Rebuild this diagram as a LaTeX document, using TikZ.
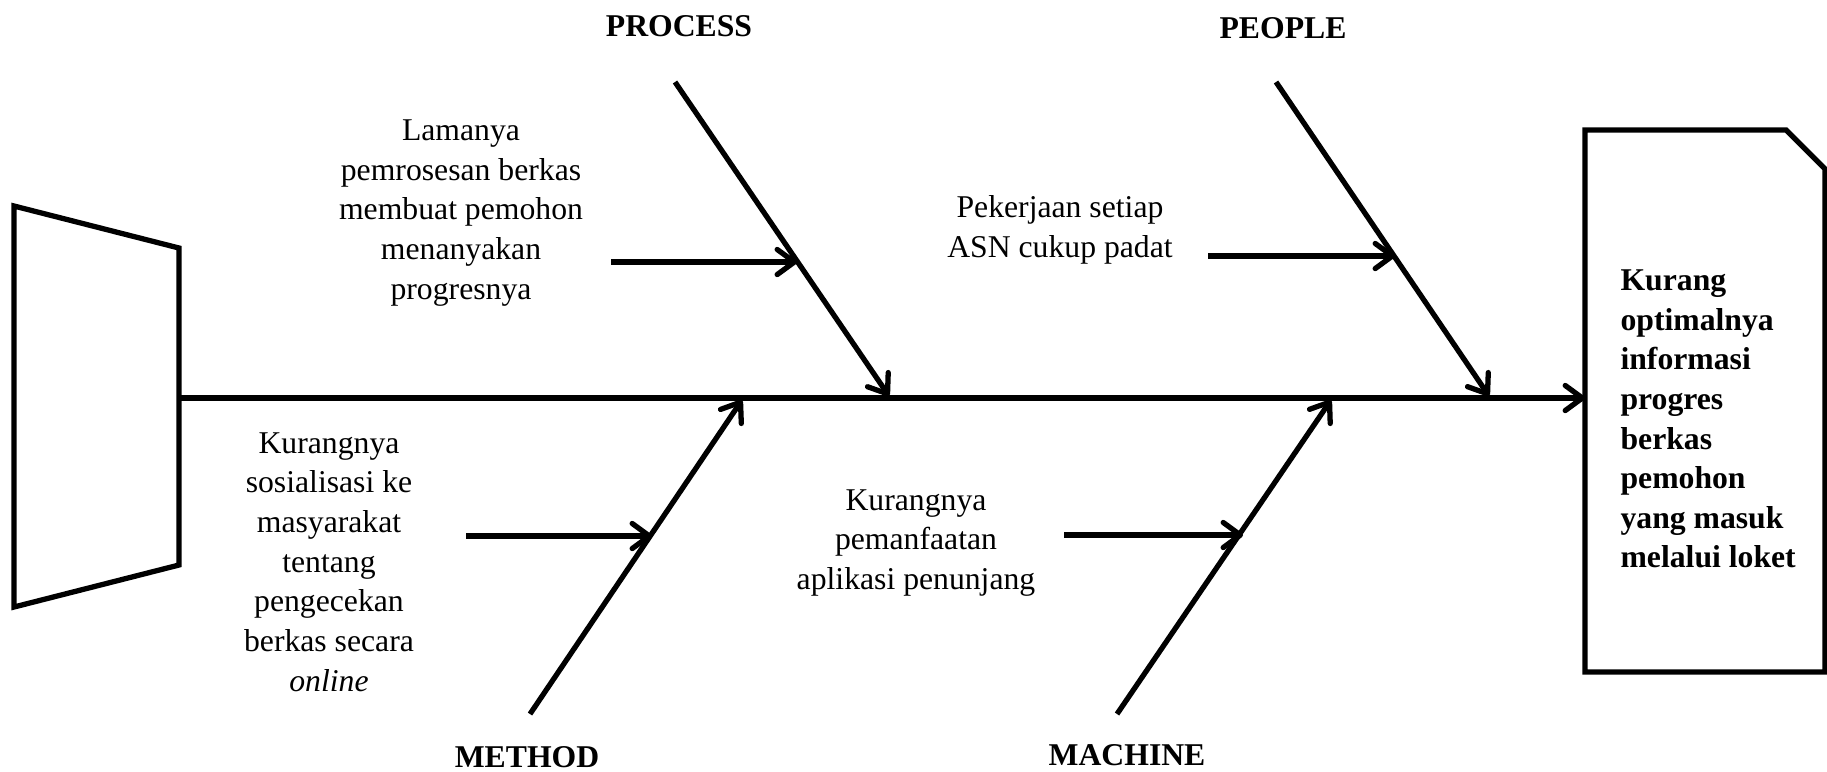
\documentclass[tikz,border=0pt]{standalone}
\usepackage{fontspec}
\setmainfont{Liberation Serif}
\usetikzlibrary{arrows.meta}

\begin{document}
\begin{tikzpicture}[x=0.0133cm,y=-0.0133cm]
\tikzset{bone/.style={line width=2pt,-{Straight Barb[round,length=6.5pt,width=9.5pt]}},
every node/.style={font=\fontsize{12}{15}\selectfont},
cause/.style={align=center},
cat/.style={font=\fontsize{12}{15}\selectfont\bfseries}}
\useasboundingbox (0,0) rectangle (1827,771);

% head and effect box
\draw[line width=2pt] (14,206) -- (179,248) -- (179,565) -- (14,607) -- cycle;
\draw[line width=2pt] (1585,130) -- (1786,130) -- (1825,169) -- (1825,672) -- (1585,672) -- cycle;
\coordinate (tail) at (179,398);
\coordinate (effect) at (1585,398);
\node (res) at (1620,419) [anchor=west,inner sep=0pt,align=left,font=\fontsize{12}{15}\selectfont\bfseries] {Kurang\\optimalnya\\informasi\\progres\\berkas\\pemohon\\yang masuk\\melalui loket};

% bones
\coordinate (p1) at (675,82);
\coordinate (p2) at (889,396);
\coordinate (q1) at (1276,82);
\coordinate (q2) at (1489,396);
\coordinate (m1) at (530,714);
\coordinate (m2) at (742,400);
\coordinate (n1) at (1117,714);
\coordinate (n2) at (1331,400);

% sub causes
\coordinate (ps) at (611,262);
\coordinate (pe) at (797,262);
\coordinate (qs) at (1208,256);
\coordinate (qe) at (1395,256);
\coordinate (ms) at (466,536);
\coordinate (me) at (652,536);
\coordinate (ns) at (1064,535);
\coordinate (ne) at (1243,535);

\node (process) at (679,26) [cat] {PROCESS};
\node (people) at (1283,28) [cat] {PEOPLE};
\node (method) at (527,757) [cat] {METHOD};
\node (machine) at (1127,755) [cat] {MACHINE};

\node (c1) at (461,213) [cause] {Lamanya\\pemrosesan berkas\\membuat pemohon\\menanyakan\\progresnya};
\node (c2) at (1060,230) [cause] {Pekerjaan setiap\\ASN cukup padat};
\node (c3) at (329,562) [cause] {Kurangnya\\sosialisasi ke\\masyarakat\\tentang\\pengecekan\\berkas secara\\\textit{online}};
\node (c4) at (916,543) [cause] {Kurangnya\\pemanfaatan\\aplikasi penunjang};

\path
(tail) edge [bone] (effect)
(p1) edge [bone] (p2)
(q1) edge [bone] (q2)
(m1) edge [bone] (m2)
(n1) edge [bone] (n2)
(ps) edge [bone] (pe)
(qs) edge [bone] (qe)
(ms) edge [bone] (me)
(ns) edge [bone] (ne);
\end{tikzpicture}
\end{document}
